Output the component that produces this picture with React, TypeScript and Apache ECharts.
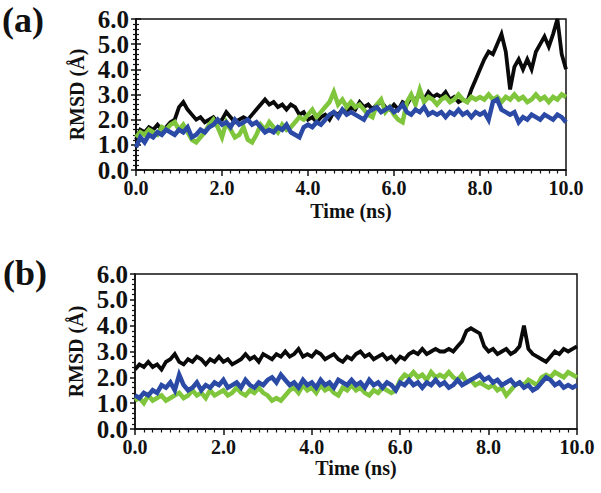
import React, { useEffect, useRef } from "react";
import * as echarts from "echarts";

// sampling step of every series (ns)
const STEP = 0.1;

// Panel (a)
const A_BLACK = [
  1.2, 1.6, 1.5, 1.7, 1.6, 1.8, 1.6, 1.7, 1.9, 2.0,
  2.5, 2.7, 2.4, 2.2, 2.0, 2.1, 1.9, 2.0, 2.1, 1.9,
  2.0, 2.3, 2.1, 1.9, 2.0, 2.1, 2.0, 2.2, 2.4, 2.6,
  2.8, 2.6, 2.7, 2.5, 2.6, 2.4, 2.6, 2.5, 2.2, 2.3,
  2.0, 2.1, 1.9, 2.1, 2.2, 2.0, 2.3, 2.2, 2.4, 2.3,
  2.5, 2.4, 2.7, 2.5, 2.6, 2.4, 2.6, 2.7, 2.5, 2.4,
  2.6, 2.4, 2.7, 2.6, 2.9, 2.8, 3.0, 2.8, 3.1, 2.9,
  3.0, 2.9, 3.1, 2.8, 2.9, 2.7, 2.8, 2.7, 3.2, 3.6,
  4.0, 4.4, 4.7, 4.6, 5.0, 5.4, 4.7, 3.2, 4.1, 4.4,
  4.0, 4.4, 4.0, 4.7, 5.0, 5.3, 4.9, 5.4, 6.0, 4.6,
  4.0,
];
const A_GREEN = [
  1.3, 1.5, 1.4, 1.6, 1.5, 1.4, 1.7, 1.6, 1.8, 1.9,
  1.6, 1.8, 1.5, 1.2, 1.1, 1.3, 1.5, 1.8, 2.0, 1.7,
  1.3, 1.9, 1.6, 1.3, 1.4, 1.7, 1.2, 1.1, 1.4, 1.8,
  1.6, 1.9, 1.7, 1.5, 1.8, 1.6, 1.7, 1.9, 2.1, 2.0,
  2.2, 2.4, 2.1, 2.3, 2.5, 2.7, 3.1, 2.6, 2.8, 2.5,
  2.7, 2.5, 2.6, 2.4, 2.2, 2.1, 2.6, 2.8, 2.3, 2.5,
  2.2, 2.0, 1.9, 2.7, 3.0, 2.6, 3.2, 2.7, 2.9, 2.8,
  2.6, 2.8, 2.9, 2.7, 2.8, 3.0, 2.8, 2.7, 2.9, 2.8,
  2.9, 2.8, 3.0, 2.8, 2.9, 2.7, 2.9, 2.8, 3.0, 2.8,
  2.9, 2.7, 2.8, 3.0, 2.8, 2.9, 2.7, 2.9, 2.8, 3.0,
  2.9,
];
const A_BLUE = [
  0.9, 1.3, 1.1, 1.4, 1.3, 1.5, 1.4, 1.6, 1.5, 1.4,
  1.6, 1.5, 1.7, 1.3, 1.4, 1.6, 1.5, 1.7, 1.8, 2.0,
  1.8, 1.9, 1.7, 2.0, 1.8, 1.9, 2.0, 1.8, 1.9, 1.7,
  1.5, 1.6, 1.5, 1.7, 1.6, 1.8, 1.5, 1.4, 1.3, 1.7,
  1.8, 1.7, 1.9, 1.8, 2.0, 2.2, 2.3, 2.1, 2.4, 2.2,
  2.3, 2.2, 2.1, 2.0, 2.3, 2.4, 2.5, 2.3, 2.4, 2.5,
  2.3, 2.4, 2.6, 2.3, 2.2, 2.4, 2.3, 2.5, 2.2, 2.3,
  2.2, 2.3, 2.1, 2.3, 2.2, 2.4, 2.2, 2.3, 2.1, 2.3,
  2.2, 2.3, 2.0, 2.7, 2.8, 2.4, 2.3, 2.2, 2.3, 1.9,
  2.1, 2.0, 2.2, 2.1, 2.0, 2.2, 2.1, 2.0, 2.2, 2.1,
  1.9,
];

// Panel (b)
const B_BLACK = [
  2.3, 2.5, 2.4, 2.6, 2.4, 2.5, 2.3, 2.6, 2.7, 2.9,
  2.6, 2.5, 2.7, 2.6, 2.8, 2.7, 2.5, 2.7, 2.6, 2.8,
  2.6, 2.7, 2.5, 2.6, 2.7, 2.9, 2.7, 2.8, 2.6, 2.9,
  2.8, 2.7, 2.9, 2.8, 3.0, 2.8, 2.9, 3.1, 2.8, 2.9,
  2.8, 3.0, 2.9, 2.7, 2.8, 2.9, 2.7, 2.6, 2.8, 2.7,
  2.9, 3.0, 2.8, 2.9, 2.7, 2.8, 2.9, 2.7, 2.8, 2.6,
  2.8, 2.7, 2.9, 3.0, 2.9, 3.1, 2.9, 3.0, 3.1, 3.0,
  3.0, 3.1, 3.0, 3.2, 3.4, 3.8, 3.9, 3.8, 3.7, 3.2,
  3.0, 3.1, 2.9, 3.0, 3.1, 2.9, 3.0, 3.2, 4.0, 3.1,
  2.9, 2.8, 2.7, 2.6, 2.8, 3.0, 2.9, 3.1, 3.0, 3.1,
  3.2,
];
const B_GREEN = [
  1.1, 1.2, 1.0, 1.3, 1.1, 1.2, 1.3, 1.1, 1.2, 1.3,
  1.4, 1.2, 1.3, 1.5, 1.3, 1.4, 1.2, 1.5, 1.3, 1.4,
  1.5, 1.3, 1.4, 1.6, 1.4, 1.3, 1.5, 1.4, 1.6, 1.4,
  1.3, 1.1, 1.2, 1.1, 1.3, 1.5, 1.6, 1.4, 1.7, 1.5,
  1.6, 1.4, 1.7, 1.5, 1.6, 1.4, 1.3, 1.6, 1.5, 1.7,
  1.5, 1.6, 1.4, 1.3, 1.5, 1.4, 1.6, 1.5, 1.4, 1.5,
  1.9, 2.1, 2.0, 2.2, 2.0, 2.1, 1.9, 2.2, 2.0, 2.1,
  2.0, 2.2, 2.0, 1.9, 2.1, 1.8, 1.9, 1.7, 1.8, 1.7,
  1.6, 1.7, 1.5, 1.6, 1.3, 1.5, 1.7, 1.8, 1.7, 1.9,
  1.8, 1.7, 2.0, 2.1, 2.0, 2.2, 2.1, 2.0, 2.2, 2.1,
  2.0,
];
const B_BLUE = [
  1.3, 1.2, 1.4, 1.3, 1.5, 1.4, 1.7, 1.6, 1.8, 1.5,
  2.1, 1.7, 1.5, 1.6, 1.8, 1.5, 1.7, 1.6, 1.8, 1.7,
  1.9, 1.6, 1.7, 1.8, 1.6, 1.9, 1.7, 1.6, 1.8, 1.7,
  1.9, 2.0, 1.8, 2.1, 1.9, 1.7, 1.8, 1.6, 1.9, 1.7,
  1.8, 1.6, 1.9, 1.7, 1.8, 1.6, 1.9, 1.8, 1.7, 1.9,
  1.7, 1.8, 1.6, 1.9, 1.7, 1.8, 1.6, 1.8, 1.7, 1.5,
  1.8, 1.7, 1.9, 1.7, 1.8, 1.6, 1.8, 1.7, 1.9, 1.7,
  1.8, 1.6, 1.7, 1.9, 1.7, 1.8, 1.9, 2.0, 2.1, 1.9,
  2.0, 1.8, 1.9, 1.7, 1.8, 1.9, 1.7, 1.8, 1.6, 1.7,
  1.5, 1.6, 1.8, 2.0, 1.9, 1.7, 1.8, 1.6, 1.7, 1.6,
  1.7,
];

const PANEL_LABELS = ["(a)", "(b)"];
const X_NAME = "Time (ns)";
const Y_NAME = "RMSD (Å)";

const BLACK = "#0a0a0a";
const GREEN = "#7fc63c";
const BLUE = "#2b4aa6";
const FONT = "Liberation Serif";
const INK = "#111";

const toPairs = (arr: number[]) => arr.map((v, i) => [+(i * STEP).toFixed(2), v]);

const xAxisCfg = (gridIndex: number, nameGap: number) => ({
  gridIndex,
  type: "value",
  min: 0,
  max: 10,
  interval: 2,
  name: X_NAME,
  nameLocation: "middle",
  nameGap,
  nameTextStyle: { fontFamily: FONT, fontWeight: "bold", fontSize: 20, color: INK },
  axisLine: { show: true, onZero: false, lineStyle: { color: INK, width: 1.5 } },
  axisTick: { show: true, length: 6, lineStyle: { color: INK, width: 1.5 } },
  minorTick: { show: true, splitNumber: 10, length: 3.5, lineStyle: { color: INK, width: 1.2 } },
  splitLine: { show: false },
  axisLabel: {
    fontFamily: FONT,
    fontWeight: "bold",
    fontSize: 20,
    color: INK,
    margin: 8,
    formatter: (v: number) => v.toFixed(1),
  },
});

const yAxisCfg = (gridIndex: number, nameGap: number) => ({
  gridIndex,
  type: "value",
  min: 0,
  max: 6,
  interval: 1,
  name: Y_NAME,
  nameLocation: "middle",
  nameGap,
  nameTextStyle: { fontFamily: FONT, fontWeight: "bold", fontSize: 20, color: INK },
  axisLine: { show: true, onZero: false, lineStyle: { color: INK, width: 1.5 } },
  axisTick: { show: true, length: 5, lineStyle: { color: INK, width: 1.5 } },
  minorTick: { show: true, splitNumber: 5, length: 3, lineStyle: { color: INK, width: 1.2 } },
  splitLine: { show: false },
  axisLabel: {
    fontFamily: FONT,
    fontWeight: "bold",
    fontSize: 25,
    color: INK,
    margin: 7,
    formatter: (v: number) => v.toFixed(1),
  },
});

const line = (name: string, data: number[], color: string, idx: number, yIdx: number, z: number, width: number) => ({
  name,
  type: "line",
  xAxisIndex: idx,
  yAxisIndex: yIdx,
  data: toPairs(data),
  showSymbol: false,
  symbol: "none",
  z,
  lineStyle: { color, width, join: "miter" },
  itemStyle: { color },
});

export default function App() {
  const ref = useRef<HTMLDivElement>(null);
  useEffect(() => {
    if (!ref.current) return;
    const chart = echarts.init(ref.current, undefined, { renderer: "svg" });
    chart.setOption({
      animation: false,
      backgroundColor: "#fff",
      textStyle: { fontFamily: FONT },
      grid: [
        { left: 136, top: 19, width: 430, height: 151, show: true, borderColor: INK, borderWidth: 1.5, backgroundColor: "transparent" },
        { left: 135, top: 274, width: 442, height: 155, show: true, borderColor: INK, borderWidth: 1.5, backgroundColor: "transparent" },
      ],
      xAxis: [xAxisCfg(0, 31), xAxisCfg(1, 29)],
      yAxis: [
        yAxisCfg(0, 45),
        {
          gridIndex: 0,
          type: "value",
          position: "right",
          min: 0,
          max: 6,
          interval: 1,
          axisLine: { show: true, lineStyle: { color: INK, width: 1.5 } },
          axisTick: { show: true, length: 5, lineStyle: { color: INK, width: 1.5 } },
          minorTick: { show: true, splitNumber: 5, length: 3, lineStyle: { color: INK, width: 1.2 } },
          splitLine: { show: false },
          axisLabel: { show: false },
        },
        yAxisCfg(1, 47),
      ],
      graphic: [
        { type: "text", left: 2, top: 2, style: { text: PANEL_LABELS[0], font: `bold 36px ${FONT}`, fill: INK } },
        { type: "text", left: 3, top: 255, style: { text: PANEL_LABELS[1], font: `bold 36px ${FONT}`, fill: INK } },
      ],
      series: [
        line("a-black", A_BLACK, BLACK, 0, 0, 2, 3.8),
        line("a-green", A_GREEN, GREEN, 0, 0, 3, 4.5),
        line("a-blue", A_BLUE, BLUE, 0, 0, 4, 4.5),
        line("b-black", B_BLACK, BLACK, 1, 2, 2, 3.8),
        line("b-green", B_GREEN, GREEN, 1, 2, 3, 4.5),
        line("b-blue", B_BLUE, BLUE, 1, 2, 4, 4.5),
      ],
    });
    return () => chart.dispose();
  }, []);
  return (
    <div
      ref={ref}
      style={{ position: "fixed", left: 0, top: 0, width: 601, height: 493, background: "#fff" }}
    />
  );
}
